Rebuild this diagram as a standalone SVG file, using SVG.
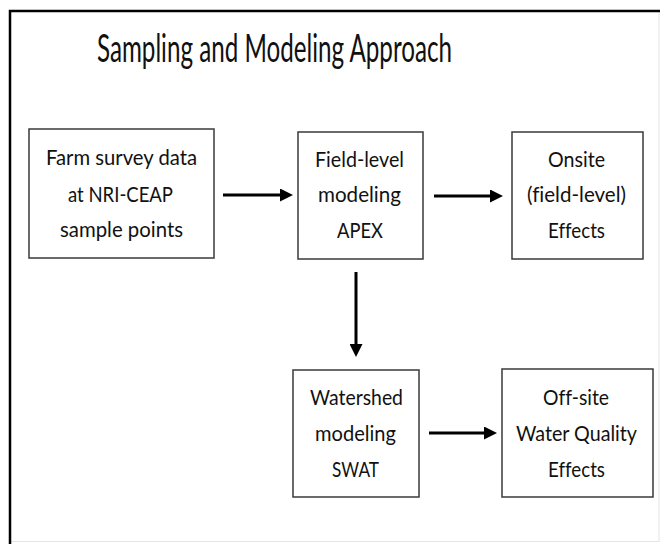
<svg xmlns="http://www.w3.org/2000/svg" width="660" height="544" viewBox="0 0 660 544">
  <style>
    .frame { fill: none; stroke: #000; stroke-width: 2.5; }
    .edge { fill: none; stroke: #e4e4e4; stroke-width: 1; }
    .box { fill: #fff; stroke: #3a3a3a; stroke-width: 1.5; }
    .t { font-family: Lato, "Open Sans", "Liberation Sans", sans-serif; font-size: 20.5px; fill: #111; text-anchor: middle; font-variant-ligatures: none; }
    .title { font-family: Lato, "Open Sans", "Liberation Sans", sans-serif; font-size: 38px; fill: #111; text-anchor: middle; }
    .conn { stroke: #000; stroke-width: 3; fill: none; }
  </style>
  <defs>
    <marker id="ah" markerUnits="userSpaceOnUse" markerWidth="13" markerHeight="13" refX="6" refY="6.5" orient="auto">
      <path d="M0,0 L13,6.5 L0,13 z" fill="#000"/>
    </marker>
  </defs>
  <rect x="0" y="0" width="660" height="544" fill="#fff"/>
  <line class="edge" x1="659" y1="12" x2="659" y2="542"/>
  <line class="edge" x1="11" y1="541.5" x2="659" y2="541.5"/>
  <polyline class="frame" points="10,544 10,11 660,11"/>
  <text class="title" x="274.5" y="62" textLength="355" lengthAdjust="spacingAndGlyphs">Sampling and Modeling Approach</text>

  <g id="n1">
    <rect class="box" x="29" y="129" width="185" height="129"/>
    <text class="t" x="121.5" y="165" textLength="151" lengthAdjust="spacingAndGlyphs">Farm survey data</text>
    <text class="t" x="120.5" y="202" textLength="105" lengthAdjust="spacingAndGlyphs">at NRI-CEAP</text>
    <text class="t" x="121.5" y="237" textLength="123" lengthAdjust="spacingAndGlyphs">sample points</text>
  </g>
  <g id="n2">
    <rect class="box" x="298" y="132" width="125" height="127"/>
    <text class="t" x="359.5" y="167" textLength="89" lengthAdjust="spacingAndGlyphs">Field-level</text>
    <text class="t" x="359.5" y="202" textLength="83" lengthAdjust="spacingAndGlyphs">modeling</text>
    <text class="t" x="360" y="238" textLength="46" lengthAdjust="spacingAndGlyphs">APEX</text>
  </g>
  <g id="n3">
    <rect class="box" x="512" y="132" width="131" height="127"/>
    <text class="t" x="576.5" y="167" textLength="57" lengthAdjust="spacingAndGlyphs">Onsite</text>
    <text class="t" x="576.5" y="202" textLength="99" lengthAdjust="spacingAndGlyphs">(field-level)</text>
    <text class="t" x="576.5" y="238" textLength="57" lengthAdjust="spacingAndGlyphs">Effects</text>
  </g>
  <g id="n4">
    <rect class="box" x="293" y="370" width="126" height="127"/>
    <text class="t" x="356.5" y="405" textLength="93" lengthAdjust="spacingAndGlyphs">Watershed</text>
    <text class="t" x="355.5" y="441" textLength="81" lengthAdjust="spacingAndGlyphs">modeling</text>
    <text class="t" x="355.5" y="477" textLength="47" lengthAdjust="spacingAndGlyphs">SWAT</text>
  </g>
  <g id="n5">
    <rect class="box" x="502" y="369" width="151" height="128"/>
    <text class="t" x="576" y="405" textLength="66" lengthAdjust="spacingAndGlyphs">Off-site</text>
    <text class="t" x="576.5" y="441" textLength="121" lengthAdjust="spacingAndGlyphs">Water Quality</text>
    <text class="t" x="576.5" y="477" textLength="57" lengthAdjust="spacingAndGlyphs">Effects</text>
  </g>

  <g id="connectors">
    <line class="conn" x1="223" y1="195" x2="286" y2="195" marker-end="url(#ah)"/>
    <line class="conn" x1="434" y1="196" x2="496" y2="196" marker-end="url(#ah)"/>
    <line class="conn" x1="356" y1="272" x2="356" y2="350" marker-end="url(#ah)"/>
    <line class="conn" x1="429" y1="433" x2="490" y2="433" marker-end="url(#ah)"/>
  </g>
</svg>
